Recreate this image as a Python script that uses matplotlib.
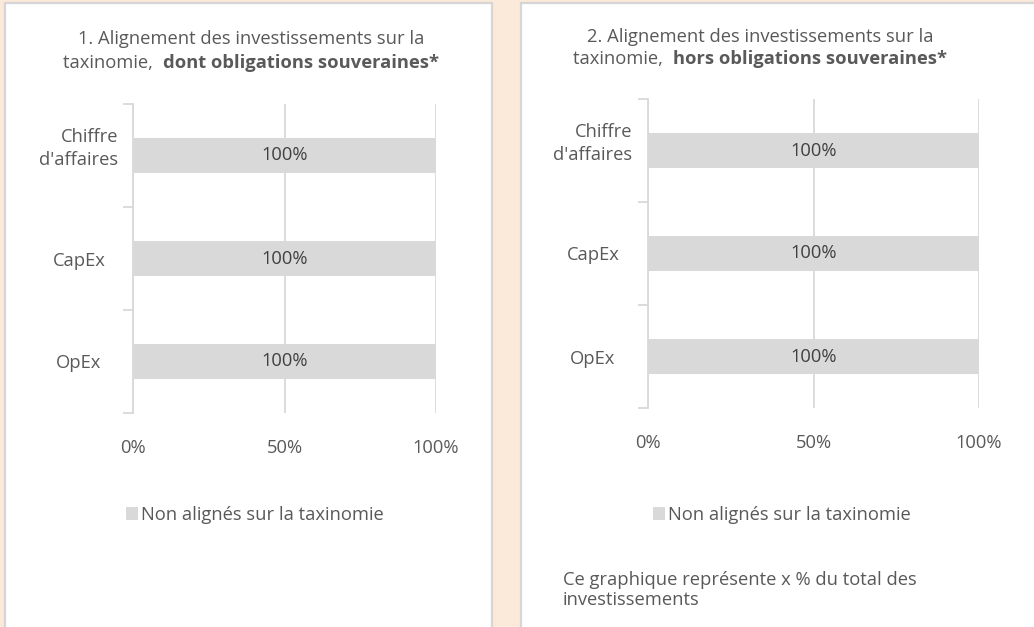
import numpy as np
import matplotlib
matplotlib.use("Agg")
from matplotlib import pyplot as plt
from matplotlib.patches import Rectangle

# data
categories = ["Chiffre\nd'affaires", "CapEx", "OpEx"]
values_with_sov = [100, 100, 100]
values_without_sov = [100, 100, 100]
bar_labels_with_sov = ["100%", "100%", "100%"]
bar_labels_without_sov = ["100%", "100%", "100%"]
x_ticks = [0, 50, 100]
x_tick_labels = ["0%", "50%", "100%"]
series_name = "Non alignés sur la taxinomie"
title_1 = ("1. Alignement des investissements sur la", "taxinomie,  ", "dont obligations souveraines*")
title_2 = ("2. Alignement des investissements sur la", "taxinomie,  ", "hors obligations souveraines*")
footnote = "Ce graphique représente x % du total des\ninvestissements"

plt.rcParams['font.family'] = ['Open Sans', 'DejaVu Sans']
FS = 13.2
TXT = "#595959"
GRID = "#D9D9D9"
BAR = "#D9D9D9"
BG = "#FBE9D9"

W, H = 1034, 627
fig = plt.figure(figsize=(W / 100, H / 100), dpi=100)
fig.patch.set_facecolor(BG)


def px_box(x0, y0, x1, y1):
    # pixel box (top-down) -> figure fraction rect
    return [x0 / W, 1 - y1 / H, (x1 - x0) / W, (y1 - y0) / H]


# white panels
for (x0, x1) in [(5, 492), (521, 1045)]:
    fig.patches.append(Rectangle((x0 / W, -0.05), (x1 - x0) / W, 1 - 3 / H + 0.05,
                                 transform=fig.transFigure, facecolor="white",
                                 edgecolor="#D6D6D6", linewidth=1.6, zorder=-10))


def draw_chart(box, values, bar_labels, label_cx, title, title_cx, title_y, legend_cx):
    ax = fig.add_axes(px_box(*box))
    ax.set_facecolor("none")
    y = np.arange(len(categories))
    bars = ax.barh(y, values, height=0.345, color=BAR, label=series_name, zorder=2)
    ax.bar_label(bars, labels=bar_labels, label_type="center", color="#404040", fontsize=FS)
    ax.set_xlim(0, 100)
    ax.set_ylim(len(categories) - 0.5, -0.5)

    ax.set_xticks(x_ticks)
    ax.set_xticklabels(x_tick_labels, color=TXT, fontsize=FS)
    ax.tick_params(axis="x", length=0, pad=19)
    ax.grid(axis="x", color=GRID, linewidth=1.3, zorder=1)
    ax.set_axisbelow(True)

    ax.set_yticks([])
    ax.set_yticks(np.arange(-0.5, len(categories)), minor=True)
    ax.tick_params(axis="y", which="minor", length=7, color=GRID, width=1.3)
    for s in ["top", "right", "bottom"]:
        ax.spines[s].set_visible(False)
    ax.spines["left"].set_color(GRID)
    ax.spines["left"].set_linewidth(1.3)

    # category labels: centred block, lines right-aligned, wrapped labels sit a bit high
    x0, x1 = box[0], box[2]
    lx = (label_cx - x0) / (x1 - x0)
    for yi, cat in zip(y, categories):
        n_lines = cat.count("\n") + 1
        dy = 9 * (n_lines - 1) - 2
        ax.annotate(cat, xy=(lx, yi), xycoords=ax.get_yaxis_transform(),
                    xytext=(0, dy), textcoords="offset pixels",
                    ha="center", va="center", multialignment="right",
                    color=TXT, fontsize=FS, linespacing=1.3)

    # title (second line partly bold)
    line1, pre, bold = title
    fig.text(title_cx / W, 1 - title_y / H, line1, ha="center", va="center", color=TXT, fontsize=FS)
    r = fig.canvas.get_renderer()
    t_pre = fig.text(0, 1 - (title_y + 23) / H, pre, ha="left", va="center", color=TXT, fontsize=FS)
    t_bold = fig.text(0, 1 - (title_y + 23) / H, bold, ha="left", va="center", color=TXT,
                      fontsize=FS, fontweight="bold")
    w_pre = t_pre.get_window_extent(r).width
    w_bold = t_bold.get_window_extent(r).width
    start = title_cx - (w_pre + w_bold) / 2
    t_pre.set_x(start / W)
    t_bold.set_x((start + w_pre) / W)

    fig.legend(handles=[bars], labels=[series_name], loc="center",
               bbox_to_anchor=(legend_cx / W, 1 - 515 / H), frameon=False,
               fontsize=FS, labelcolor=TXT, handlelength=0.65, handleheight=0.65,
               handletextpad=0.2)
    return ax


draw_chart((133, 104, 436, 413), values_with_sov, bar_labels_with_sov, 79, title_1, 251, 39.5, 255)
draw_chart((648, 99, 979, 408), values_without_sov, bar_labels_without_sov, 593, title_2, 760, 36.5, 782)

fig.text(563 / W, 1 - 590 / H, footnote, ha="left", va="center", color=TXT, fontsize=FS,
         linespacing=1.12)

fig.savefig("out.png", dpi=100, facecolor=fig.get_facecolor())
